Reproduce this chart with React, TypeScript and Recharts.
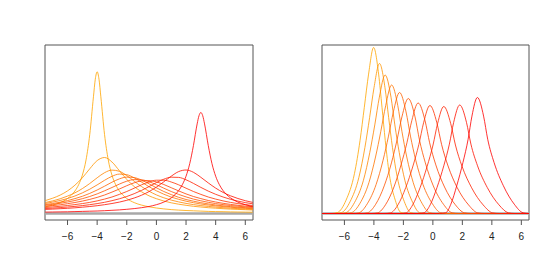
import React from 'react';
import { LineChart, Line, XAxis, YAxis, ReferenceArea } from 'recharts';

type Pt = [number, number];

const xTicks = [-6, -4, -2, 0, 2, 4, 6];
const xDomain: [number, number] = [-7.52, 6.52];
const yDomain: [number, number] = [-6.5, 168.5];

// orange -> red ramp, 11 steps
const palette = [
  '#FFA500', '#FF9500', '#FF8400', '#FF7400', '#FF6300', '#FF5300',
  '#FF4200', '#FF3200', '#FF2100', '#FF1100', '#FF0000',
];

const baseline: Pt[] = [[-7.52, 0], [6.52, 0]];

// ---- left panel ----
const leftGrid = [
  -7.5, -7, -6.5, -6, -5.5, -5, -4.5, -4, -3.5, -3, -2.5, -2, -1.5, -1, -0.5,
  0, 0.5, 1, 1.5, 2, 2.5, 3, 3.5, 4, 4.5, 5, 5.5, 6, 6.5,
];

const leftFirst: Pt[] = [
  [-7.5, 6.7], [-7, 8.4], [-6.5, 10.9], [-6, 15.0], [-5.75, 18.2], [-5.5, 22.5],
  [-5.25, 28.8], [-5, 38.3], [-4.75, 53.6], [-4.5, 78.9], [-4.25, 116.7],
  [-4.125, 134.3], [-4, 141.7], [-3.875, 134.3], [-3.75, 116.7], [-3.5, 78.9],
  [-3.25, 53.6], [-3, 38.3], [-2.75, 28.8], [-2.5, 22.5], [-2.25, 18.2], [-2, 15.0],
  [-1.5, 10.9], [-1, 8.4], [-0.5, 6.7], [0, 5.5], [0.5, 4.6], [1, 3.9], [1.5, 3.4],
  [2, 3.0], [2.5, 2.7], [3, 2.4], [3.5, 2.1], [4, 1.9], [4.5, 1.8], [5, 1.6],
  [5.5, 1.5], [6, 1.4], [6.5, 1.3],
];

const left2 = [12.9, 15.3, 18.4, 22.6, 28.3, 35.7, 44.7, 52.9, 56.0, 51.5, 42.8, 34.1, 27.0, 21.7, 17.7, 14.8, 12.5, 10.7, 9.3, 8.2, 7.2, 6.5, 5.8, 5.3, 4.8, 4.4, 4.1, 3.8, 3.5];
const left3 = [11.0, 12.6, 14.7, 17.4, 20.7, 24.9, 30.0, 35.7, 40.8, 43.4, 42.2, 37.9, 32.3, 26.9, 22.3, 18.6, 15.7, 13.4, 11.6, 10.1, 8.9, 7.9, 7.1, 6.4, 5.8, 5.3, 4.9, 4.5, 4.1];
const left4 = [10.0, 11.4, 13.0, 15.0, 17.5, 20.6, 24.3, 28.6, 33.2, 37.2, 39.4, 38.8, 35.7, 31.4, 26.8, 22.7, 19.3, 16.4, 14.2, 12.3, 10.8, 9.5, 8.5, 7.6, 6.9, 6.3, 5.7, 5.2, 4.8];
const left5 = [8.9, 10.0, 11.3, 12.9, 14.9, 17.2, 20.1, 23.5, 27.3, 31.3, 34.6, 36.4, 35.9, 33.4, 29.7, 25.7, 22.0, 18.9, 16.2, 14.0, 12.3, 10.8, 9.6, 8.5, 7.7, 6.9, 6.3, 5.8, 5.3];
const left6 = [8.2, 9.1, 10.2, 11.5, 13.0, 14.8, 17.0, 19.6, 22.7, 26.0, 29.4, 32.3, 33.9, 33.7, 31.8, 28.8, 25.3, 22.0, 19.1, 16.6, 14.4, 12.7, 11.2, 9.9, 8.9, 8.0, 7.3, 6.6, 6.0];
const left7 = [7.2, 7.9, 8.7, 9.8, 11.0, 12.4, 14.1, 16.1, 18.5, 21.4, 24.5, 27.8, 30.7, 32.6, 32.9, 31.6, 29.0, 25.8, 22.6, 19.6, 17.0, 14.9, 13.0, 11.5, 10.2, 9.1, 8.2, 7.4, 6.8];
const left8 = [6.0, 6.6, 7.2, 8.0, 8.9, 9.9, 11.1, 12.6, 14.4, 16.5, 19.1, 22.0, 25.3, 28.7, 31.5, 33.3, 33.3, 31.5, 28.7, 25.3, 22.0, 19.1, 16.5, 14.4, 12.6, 11.1, 9.9, 8.9, 8.0];
const left9 = [5.0, 5.4, 5.9, 6.5, 7.1, 7.9, 8.8, 9.9, 11.2, 12.8, 14.7, 17.0, 19.8, 23.1, 26.9, 30.9, 34.3, 36.3, 36.1, 33.7, 30.1, 26.1, 22.4, 19.2, 16.5, 14.2, 12.4, 10.9, 9.7];
const left10 = [4.1, 4.4, 4.8, 5.2, 5.7, 6.3, 7.0, 7.8, 8.8, 10.0, 11.4, 13.2, 15.5, 18.3, 21.9, 26.4, 31.7, 37.3, 41.9, 43.5, 41.2, 36.2, 30.6, 25.4, 21.1, 17.7, 15.0, 12.8, 11.1];

const leftLast: Pt[] = [
  [-7.5, 1.4], [-7, 1.5], [-6.5, 1.6], [-6, 1.7], [-5.5, 1.9], [-5, 2.1], [-4.5, 2.3],
  [-4, 2.5], [-3.5, 2.8], [-3, 3.2], [-2.5, 3.6], [-2, 4.2], [-1.5, 4.9], [-1, 5.8],
  [-0.5, 7.0], [0, 8.8], [0.5, 11.4], [1, 15.6], [1.25, 18.7], [1.5, 22.9],
  [1.75, 28.8], [2, 37.3], [2.25, 49.9], [2.5, 68.0], [2.75, 89.6], [2.875, 97.8],
  [3, 101], [3.125, 97.8], [3.25, 89.6], [3.5, 68.0], [3.75, 49.9], [4, 37.3],
  [4.25, 28.8], [4.5, 22.9], [4.75, 18.7], [5, 15.6], [5.5, 11.4], [6, 8.8], [6.5, 7.0],
];

// ---- right panel ----
const right1: Pt[] = [[-7.52, 0], [-6.9, 0], [-6.47, 1.0], [-5.89, 13.3], [-5.32, 39.8], [-4.94, 73.0], [-4.65, 106.2], [-4.36, 139.4], [-4.02, 166], [-3.68, 139.4], [-3.45, 106.2], [-3.23, 73.0], [-2.96, 39.8], [-2.55, 13.3], [-2.17, 1.0], [-1.8, 0], [6.52, 0]];
const right2: Pt[] = [[-7.52, 0], [-6.6, 0], [-6.2, 0.9], [-5.61, 12], [-5.02, 36], [-4.61, 66], [-4.29, 96], [-3.99, 126], [-3.62, 150], [-3.25, 126], [-3.0, 96], [-2.74, 66], [-2.41, 36], [-1.94, 12], [-1.51, 0.9], [-1.1, 0], [6.52, 0]];
const right3: Pt[] = [[-7.52, 0], [-6.3, 0], [-5.9, 0.8], [-5.31, 11.1], [-4.71, 33.2], [-4.28, 60.9], [-3.94, 88.6], [-3.63, 116.3], [-3.24, 138.5], [-2.84, 116.3], [-2.58, 88.6], [-2.28, 60.9], [-1.9, 33.2], [-1.37, 11.1], [-0.9, 0.8], [-0.5, 0], [6.52, 0]];
const right4: Pt[] = [[-7.52, 0], [-5.95, 0], [-5.53, 0.8], [-4.94, 10.3], [-4.34, 30.8], [-3.89, 56.5], [-3.53, 82.2], [-3.2, 107.9], [-2.8, 128.5], [-2.38, 107.9], [-2.1, 82.2], [-1.77, 56.5], [-1.33, 30.8], [-0.74, 10.3], [-0.22, 0.8], [0.2, 0], [6.52, 0]];
const right5: Pt[] = [[-7.52, 0], [-5.45, 0], [-5.02, 0.7], [-4.45, 9.7], [-3.85, 29.0], [-3.38, 53.2], [-3.01, 77.4], [-2.68, 101.6], [-2.26, 121], [-1.82, 101.6], [-1.52, 77.4], [-1.16, 53.2], [-0.67, 29.0], [-0.03, 9.7], [0.53, 0.7], [0.95, 0], [6.52, 0]];
const right6: Pt[] = [[-7.52, 0], [-4.85, 0], [-4.44, 0.7], [-3.88, 9.2], [-3.3, 27.6], [-2.81, 50.6], [-2.43, 73.6], [-2.1, 96.6], [-1.67, 115], [-1.21, 96.6], [-0.91, 73.6], [-0.51, 50.6], [0.03, 27.6], [0.72, 9.2], [1.31, 0.7], [1.75, 0], [6.52, 0]];
const right7: Pt[] = [[-7.52, 0], [-4.15, 0], [-3.74, 0.7], [-3.21, 8.8], [-2.64, 26.5], [-2.16, 48.6], [-1.76, 70.7], [-1.43, 92.8], [-1.0, 110.5], [-0.53, 92.8], [-0.22, 70.7], [0.2, 48.6], [0.79, 26.5], [1.52, 8.8], [2.14, 0.7], [2.6, 0], [6.52, 0]];
const right8: Pt[] = [[-7.52, 0], [-3.3, 0], [-2.88, 0.6], [-2.37, 8.6], [-1.84, 25.9], [-1.35, 47.5], [-0.95, 69.1], [-0.63, 90.7], [-0.2, 108], [0.27, 90.7], [0.59, 69.1], [1.03, 47.5], [1.65, 25.9], [2.42, 8.6], [3.05, 0.6], [3.5, 0], [6.52, 0]];
const right9: Pt[] = [[-7.52, 0], [-2.25, 0], [-1.83, 0.6], [-1.37, 8.6], [-0.87, 25.7], [-0.39, 47.1], [0.01, 68.5], [0.32, 89.9], [0.74, 107], [1.21, 89.9], [1.53, 68.5], [1.98, 47.1], [2.63, 25.7], [3.41, 8.6], [4.06, 0.6], [4.5, 0], [6.52, 0]];
const right10: Pt[] = [[-7.52, 0], [-1.0, 0], [-0.6, 0.7], [-0.18, 8.7], [0.28, 26.0], [0.74, 47.7], [1.12, 69.4], [1.41, 91.1], [1.82, 108.5], [2.28, 91.1], [2.58, 69.4], [3.03, 47.7], [3.69, 26.0], [4.48, 8.7], [5.12, 0.7], [5.55, 0], [6.52, 0]];
const right11: Pt[] = [[-7.52, 0], [0.45, 0], [0.87, 0.7], [1.22, 9.3], [1.62, 27.8], [2.04, 51.0], [2.39, 74.2], [2.65, 97.4], [3.02, 116], [3.44, 97.4], [3.72, 74.2], [4.15, 51.0], [4.78, 27.8], [5.52, 9.3], [6.12, 0.7], [6.52, 0]];

const toRows = (pts: Pt[]) => pts.map(([x, y]) => ({ x, y }));
const onGrid = (ys: number[]) => ys.map((y, i) => ({ x: leftGrid[i], y }));

const leftSeries = [
  toRows(leftFirst), onGrid(left2), onGrid(left3), onGrid(left4), onGrid(left5),
  onGrid(left6), onGrid(left7), onGrid(left8), onGrid(left9), onGrid(left10),
  toRows(leftLast),
];
const rightSeries = [
  right1, right2, right3, right4, right5, right6, right7, right8, right9, right10, right11,
].map(toRows);

const fmt = (v: number) => String(v).replace('-', '\u2212');

const W = 277;
const H = 277;

const Panel = ({ series, left, plotWidth }: { series: { x: number; y: number }[][]; left: number; plotWidth: number }) => (
  <div style={{ position: 'absolute', left, top: 0 }}>
    <LineChart width={W} height={H} margin={{ top: 45, right: W - 45 - plotWidth, bottom: 27, left: 45 }}>
      <XAxis
        type="number"
        dataKey="x"
        domain={xDomain}
        allowDataOverflow
        ticks={xTicks}
        interval={0}
        tickFormatter={fmt}
        axisLine={false}
        stroke="#555"
        tickSize={5}
        tickMargin={8}
        height={30}
        tick={{ fill: '#222', fontSize: 10, fontFamily: '"Liberation Sans", Arial, sans-serif' }}
      />
      <YAxis type="number" dataKey="y" domain={yDomain} allowDataOverflow hide />
      <ReferenceArea
        x1={xDomain[0]}
        x2={xDomain[1]}
        y1={yDomain[0]}
        y2={yDomain[1]}
        fill="none"
        stroke="#555"
        strokeWidth={1}
      />
      <Line data={toRows(baseline)} dataKey="y" stroke="#a8a8a8" strokeWidth={2.5} dot={false} isAnimationActive={false} />
      {series.map((rows, i) => (
        <Line
          key={i}
          data={rows}
          dataKey="y"
          type="monotone"
          stroke={palette[i]}
          strokeWidth={1}
          strokeOpacity={0.8}
          dot={false}
          isAnimationActive={false}
        />
      ))}
    </LineChart>
  </div>
);

export default function App() {
  return (
    <div style={{ position: 'absolute', left: 0, top: 0, width: 554, height: 277, background: '#fff' }}>
      <Panel series={leftSeries} left={0} plotWidth={208} />
      <Panel series={rightSeries} left={277} plotWidth={207} />
    </div>
  );
}
